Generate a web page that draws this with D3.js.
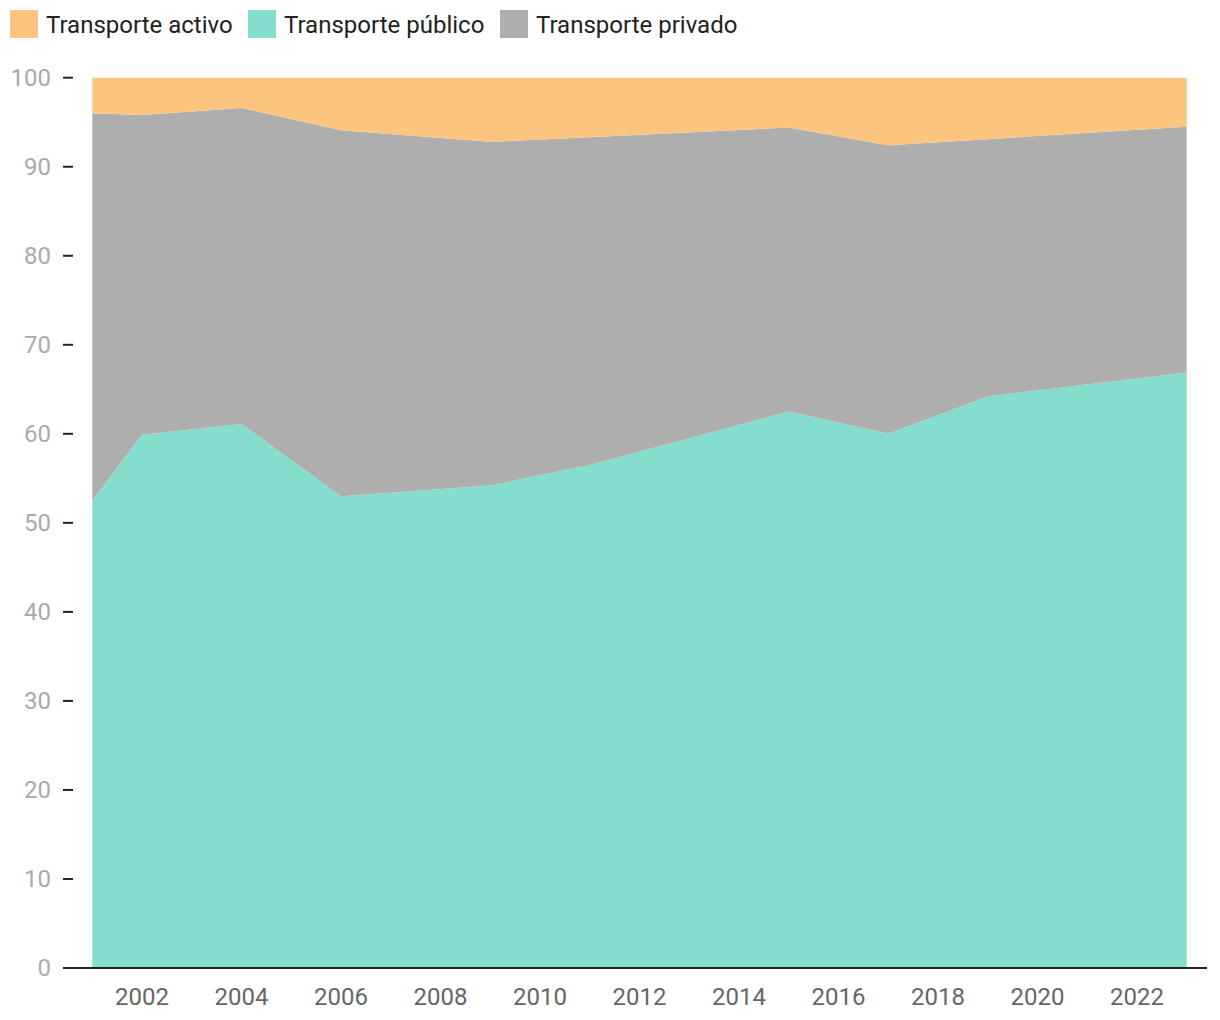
<!DOCTYPE html>
<html>
<head>
<meta charset="utf-8">
<script src="https://cdn.jsdelivr.net/npm/d3@7"></script>
<style>
body { margin: 0; background: #fff; }
svg { display: block; font-family: Roboto, "Noto Sans", sans-serif; }
</style>
</head>
<body>
<svg id="chart" width="1220" height="1020"></svg>
<script>
const years = [2001, 2002, 2004, 2006, 2009, 2011, 2015, 2017, 2019, 2023];
const publico = [52.5, 59.9, 61.1, 53.0, 54.2, 56.5, 62.5, 60.0, 64.2, 66.9];
const privado = [43.5, 35.9, 35.5, 41.1, 38.6, 36.8, 31.9, 32.4, 28.9, 27.6];
const activo  = [4.0, 4.2, 3.4, 5.9, 7.2, 6.7, 5.6, 7.6, 6.9, 5.5];
const seriesKeys = ["publico", "privado", "activo"];
const legendLabels = ["Transporte activo", "Transporte público", "Transporte privado"];
const legendKeys = ["activo", "publico", "privado"];
const xTicks = [2002, 2004, 2006, 2008, 2010, 2012, 2014, 2016, 2018, 2020, 2022];
const yTicks = [0, 10, 20, 30, 40, 50, 60, 70, 80, 90, 100];

const colors = { activo: "#fbc580", publico: "#84ddcd", privado: "#aeaeae" };

const rows = years.map((y, i) => ({ year: y, publico: publico[i], privado: privado[i], activo: activo[i] }));

const svg = d3.select("#chart");
const x = d3.scaleLinear().domain([2001, 2023]).range([92.3, 1186.7]);
const y = d3.scaleLinear().domain([0, 100]).range([968, 77.7]);

const stack = d3.stack().keys(seriesKeys);
const stacked = stack(rows);

const area = d3.area()
  .x(d => x(d.data.year))
  .y0(d => y(d[0]))
  .y1(d => y(d[1]));

svg.append("g").selectAll("path")
  .data(stacked)
  .join("path")
  .attr("fill", d => colors[d.key])
  .attr("d", area);

// Y axis ticks and labels
const yg = svg.append("g");
yg.selectAll("line").data(yTicks).join("line")
  .attr("x1", 63).attr("x2", 73)
  .attr("y1", d => y(d)).attr("y2", d => y(d))
  .attr("stroke", "#222").attr("stroke-width", 2);
yg.selectAll("text").data(yTicks).join("text")
  .attr("x", 51).attr("y", d => y(d))
  .attr("dy", "0.35em")
  .attr("text-anchor", "end")
  .attr("font-size", 24)
  .attr("fill", "#aaaaaa")
  .text(d => d);

// X axis line
svg.append("line")
  .attr("x1", 63).attr("x2", 1207)
  .attr("y1", y(0)).attr("y2", y(0))
  .attr("stroke", "#222").attr("stroke-width", 2);

const xg = svg.append("g");
xg.selectAll("text").data(xTicks).join("text")
  .attr("x", d => x(d)).attr("y", 997)
  .attr("dy", "0.35em")
  .attr("text-anchor", "middle")
  .attr("font-size", 24)
  .attr("fill", "#666666")
  .text(d => d);

// Legend
const legendX = [10, 248, 500];
const lg = svg.append("g");
legendKeys.forEach((k, i) => {
  lg.append("rect")
    .attr("x", legendX[i]).attr("y", 10)
    .attr("width", 28).attr("height", 28)
    .attr("fill", colors[k]);
  lg.append("text")
    .attr("x", legendX[i] + 36).attr("y", 25)
    .attr("dy", "0.35em")
    .attr("font-size", 24)
    .attr("fill", "#222")
    .text(legendLabels[i]);
});
</script>
</body>
</html>
